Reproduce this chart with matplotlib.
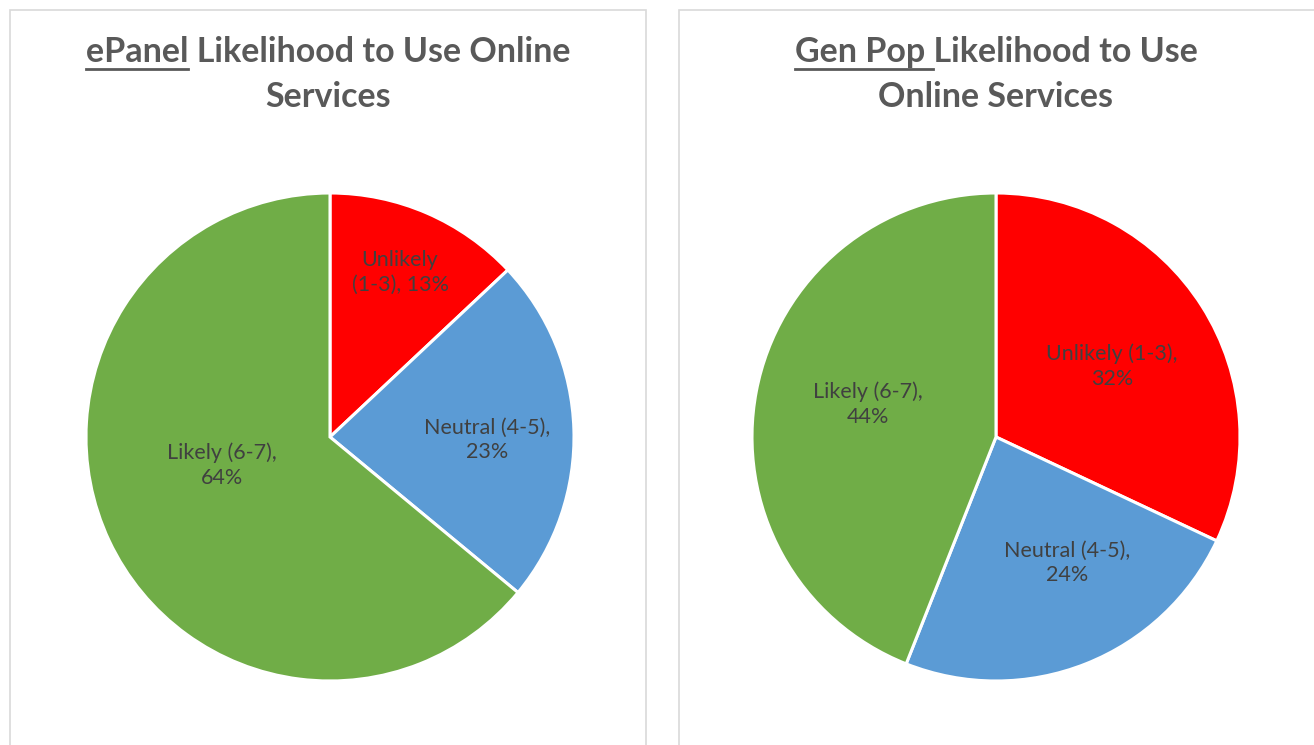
import matplotlib
matplotlib.use('Agg')
import matplotlib.pyplot as plt
from matplotlib.patches import Rectangle
from matplotlib.lines import Line2D

plt.rcParams['font.family'] = ['Lato', 'DejaVu Sans']

categories = ['Unlikely (1-3)', 'Neutral (4-5)', 'Likely (6-7)']
epanel_pct = [13, 23, 64]
genpop_pct = [32, 24, 44]
colours = ['#FF0000', '#5B9BD5', '#70AD47']

epanel_labels = ['Unlikely\n(1-3), 13%', 'Neutral (4-5),\n23%', 'Likely (6-7),\n64%']
genpop_labels = ['Unlikely (1-3),\n32%', 'Neutral (4-5),\n24%', 'Likely (6-7),\n44%']

W, H = 1314, 745
fig = plt.figure(figsize=(W / 100, H / 100), dpi=100)

# panel borders
for x0, x1 in [(10, 646), (679, 1330)]:
    fig.patches.append(Rectangle((x0 / W, -0.05), (x1 - x0) / W, (H - 10) / H + 0.05,
                                 transform=fig.transFigure, fill=False,
                                 edgecolor='#D9D9D9', linewidth=1.2))

R = 244
panels = [
    (330, 437, epanel_pct, epanel_labels,
     [(0.287, 0.676), (0.643, -0.012), (-0.443, -0.115)],
     'ePanel', 'ePanel Likelihood to Use Online', 'Services', 328),
    (996, 437, genpop_pct, genpop_labels,
     [(0.475, 0.291), (0.291, -0.516), (-0.525, 0.135)],
     'Gen Pop ', 'Gen Pop Likelihood to Use', 'Online Services', 996),
]

renderer = fig.canvas.get_renderer()
title_kw = dict(fontsize=24.5, fontweight='bold', color='#595959', ha='center', va='center')

for cx, cy, vals, labels, lpos, under, line1, line2, tx in panels:
    ax = fig.add_axes([(cx - R) / W, (H - cy - R) / H, 2 * R / W, 2 * R / H])
    ax.pie(vals, colors=colours, startangle=90, counterclock=False, radius=1,
           wedgeprops=dict(edgecolor='white', linewidth=2.2))
    for (x, y), lab in zip(lpos, labels):
        ax.text(x, y, lab, ha='center', va='center', fontsize=15.5,
                color='#404040', linespacing=1.3)
    ax.set_xlim(-1, 1)
    ax.set_ylim(-1, 1)
    ax.axis('off')

    t1 = fig.text(tx / W, 1 - 52 / H, line1, **title_kw)
    fig.text(tx / W, 1 - 97 / H, line2, **title_kw)
    bb = t1.get_window_extent(renderer)
    tmp = fig.text(bb.x0 / W, 1 - 52 / H, under, fontsize=24.5, fontweight='bold',
                   ha='left', va='center')
    ub = tmp.get_window_extent(renderer)
    tmp.remove()
    uy = (ub.y0 - 1) / H
    fig.lines.append(Line2D([ub.x0 / W, ub.x1 / W], [uy, uy], transform=fig.transFigure,
                            color='#595959', linewidth=2))

fig.savefig('out.png', dpi=100, facecolor='white')
